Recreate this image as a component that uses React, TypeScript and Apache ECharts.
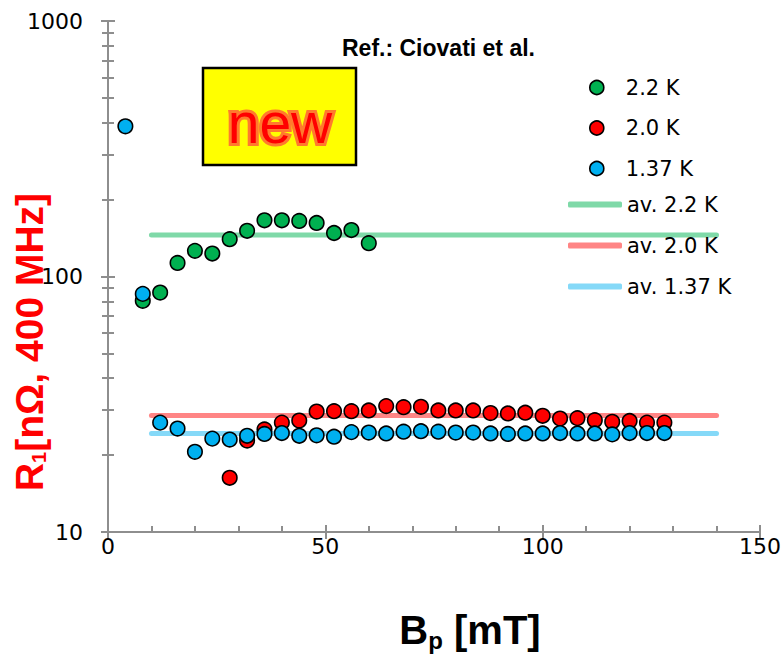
import React, { useEffect, useRef } from "react";
import * as echarts from "echarts";

// Surface resistance R1 at 400 MHz versus peak magnetic field Bp, three bath temperatures.
const fields22K = [8, 12, 16, 20, 24, 28, 32, 36, 40, 44, 48, 52, 56, 60];
const res22K = [80.3, 86.5, 113, 126, 123, 140, 151, 166, 166, 165, 162, 148, 152, 135];

const fields20K = [
  28, 32, 36, 40, 44, 48, 52, 56, 60, 64, 68, 72, 76, 80, 84, 88, 92, 96, 100, 104, 108, 112,
  116, 120, 124, 128,
];
const res20K = [
  16.3, 22.8, 25.2, 26.8, 27.3, 29.6, 29.7, 29.7, 29.9, 31.1, 30.8, 30.9, 29.9, 29.9, 29.9, 29.2,
  29.1, 29.3, 28.5, 27.8, 27.9, 27.4, 27.0, 27.2, 26.8, 26.8,
];

const fields137K = [
  4, 8, 12, 16, 20, 24, 28, 32, 36, 40, 44, 48, 52, 56, 60, 64, 68, 72, 76, 80, 84, 88, 92, 96,
  100, 104, 108, 112, 116, 120, 124, 128,
];
const res137K = [
  387, 85.5, 26.8, 25.4, 20.6, 23.2, 23.0, 23.8, 24.2, 24.4, 23.8, 23.9, 23.6, 24.6, 24.5, 24.3,
  24.7, 24.8, 24.7, 24.5, 24.5, 24.3, 24.2, 24.3, 24.3, 24.4, 24.3, 24.3, 24.1, 24.4, 24.4, 24.4,
];

// Averages, drawn as horizontal lines across the field range
const avgRange = [10, 140];
const avg22K = 145.5;
const avg20K = 28.6;
const avg137K = 24.3;

const pointNames = ["2.2 K", "2.0 K", "1.37 K"];
const avgNames = ["av. 2.2 K", "av. 2.0 K", "av. 1.37 K"];

const yMajorTicks = [10, 100, 1000];
const yMinorTicks = [20, 30, 40, 50, 60, 70, 80, 90, 200, 300, 400, 500, 600, 700, 800, 900];

const GREEN = "#00B050";
const RED = "#FF0000";
const BLUE = "#00B0F0";
const GREEN_AV = "#7FD9A8";
const RED_AV = "#FF8585";
const BLUE_AV = "#85D9F8";
const AXIS_GREY = "#8e8e8e";
const FONT = "DejaVu Sans";
const TITLE_FONT = "Liberation Sans";

const pairs = (xs: number[], ys: number[]) => xs.map((x, i) => [x, ys[i]]);

function scatter(name: string, xs: number[], ys: number[], color: string) {
  return {
    name,
    type: "scatter",
    data: pairs(xs, ys),
    symbol: "circle",
    symbolSize: 14.5,
    z: 3,
    itemStyle: { color, opacity: 1, borderColor: "#000", borderWidth: 1.6 },
  };
}

function avgLine(name: string, value: number, color: string) {
  return {
    name,
    type: "line",
    data: avgRange.map((x) => [x, value]),
    symbol: "none",
    z: 1,
    color,
    itemStyle: { color },
    lineStyle: { color, width: 5, cap: "round" },
  };
}

const hiddenLogAxis = (inside: boolean, length: number, values: number[]) => ({
  type: "log",
  logBase: 10,
  min: 10,
  max: 1000,
  position: "left",
  axisLine: { show: false },
  axisLabel: { show: false },
  splitLine: { show: false },
  axisTick: {
    show: true,
    inside,
    length,
    customValues: values,
    lineStyle: { color: AXIS_GREY, width: 2 },
  },
});

export default function App() {
  const ref = useRef<HTMLDivElement>(null);

  useEffect(() => {
    if (!ref.current) return;
    const chart = echarts.init(ref.current, undefined, { renderer: "svg" });

    chart.setOption({
      animation: false,
      backgroundColor: "#ffffff",
      grid: { left: 108, right: 23, top: 21, bottom: 131 },
      xAxis: [
        {
          type: "value",
          min: 0,
          max: 150,
          interval: 50,
          position: "bottom",
          axisLine: { lineStyle: { color: AXIS_GREY, width: 2 } },
          axisTick: { inside: true, length: 7, lineStyle: { color: AXIS_GREY, width: 2 } },
          minorTick: { show: true, splitNumber: 5, length: 6, lineStyle: { color: AXIS_GREY, width: 2 } },
          splitLine: { show: false },
          axisLabel: { fontSize: 22, fontFamily: FONT, color: "#000", margin: 3 },
        },
        {
          type: "value",
          min: 0,
          max: 150,
          interval: 50,
          position: "bottom",
          axisLine: { show: false },
          axisTick: { inside: false, length: 7, lineStyle: { color: AXIS_GREY, width: 2 } },
          axisLabel: { show: false },
          splitLine: { show: false },
        },
      ],
      yAxis: [
        {
          type: "log",
          logBase: 10,
          min: 10,
          max: 1000,
          position: "left",
          axisLine: { show: true, lineStyle: { color: AXIS_GREY, width: 2 } },
          axisTick: { inside: false, length: 7, lineStyle: { color: AXIS_GREY, width: 2 } },
          splitLine: { show: false },
          axisLabel: {
            fontSize: 22,
            fontFamily: FONT,
            color: "#000",
            margin: 25,
            formatter: (v: number) => String(Math.round(v)),
          },
        },
        hiddenLogAxis(true, 7, yMajorTicks),
        hiddenLogAxis(true, 6, yMinorTicks),
        hiddenLogAxis(false, 6, yMinorTicks),
      ],
      legend: [
        {
          data: pointNames,
          orient: "vertical",
          left: 589,
          top: 77,
          padding: 0,
          itemWidth: 14,
          itemHeight: 14,
          itemGap: 19.5,
          icon: "circle",
          itemStyle: { borderColor: "#000", borderWidth: 1.6 },
          textStyle: {
            fontSize: 21,
            fontFamily: FONT,
            color: "#000",
            lineHeight: 20,
            padding: [0, 0, 0, 17],
          },
        },
        {
          data: avgNames,
          orient: "vertical",
          left: 568,
          top: 194,
          padding: 0,
          itemWidth: 54,
          itemHeight: 6,
          itemGap: 20,
          icon: "roundRect",
          textStyle: { fontSize: 21, fontFamily: FONT, color: "#000", lineHeight: 20 },
        },
      ],
      series: [
        avgLine(avgNames[0], avg22K, GREEN_AV),
        avgLine(avgNames[1], avg20K, RED_AV),
        avgLine(avgNames[2], avg137K, BLUE_AV),
        scatter(pointNames[0], fields22K, res22K, GREEN),
        scatter(pointNames[1], fields20K, res20K, RED),
        scatter(pointNames[2], fields137K, res137K, BLUE),
      ],
      graphic: [
        {
          type: "rect",
          shape: { x: 203, y: 68, width: 153, height: 97 },
          style: { fill: "#FFFF00", stroke: "#000", lineWidth: 2.5 },
          z: 10,
        },
        {
          type: "text",
          x: 280,
          y: 123,
          z: 11,
          style: {
            text: "new",
            align: "center",
            verticalAlign: "middle",
            fontFamily: TITLE_FONT,
            fontSize: 57,
            fill: "#FF0000",
            stroke: "#FF7A2E",
            lineWidth: 6,
            strokeFirst: true,
            shadowColor: "rgba(80,80,0,0.6)",
            shadowBlur: 5,
            shadowOffsetX: 1,
            shadowOffsetY: 2,
          },
        },
        {
          type: "text",
          x: 342,
          y: 48,
          z: 11,
          style: {
            text: "Ref.: Ciovati et al.",
            align: "left",
            verticalAlign: "middle",
            fontFamily: TITLE_FONT,
            fontWeight: "bold",
            fontSize: 23,
            fill: "#000",
          },
        },
        {
          type: "text",
          x: 470,
          y: 630,
          z: 11,
          style: {
            text: "{m|B}{s|p}{m| [mT]}",
            align: "center",
            verticalAlign: "middle",
            rich: {
              m: { fontFamily: TITLE_FONT, fontWeight: "bold", fontSize: 40, lineHeight: 44, fill: "#000", color: "#000" },
              s: { fontFamily: TITLE_FONT, fontWeight: "bold", fontSize: 24, lineHeight: 14, verticalAlign: "bottom", fill: "#000", color: "#000" },
            },
          },
        },
        {
          type: "text",
          x: 29,
          y: 342,
          rotation: Math.PI / 2,
          z: 11,
          style: {
            text: "{m|R}{s|1}{m|[nΩ, 400 MHz]}",
            align: "center",
            verticalAlign: "middle",
            rich: {
              m: { fontFamily: TITLE_FONT, fontWeight: "bold", fontSize: 39, lineHeight: 40, fill: RED, color: RED },
              s: { fontFamily: TITLE_FONT, fontWeight: "bold", fontSize: 20, lineHeight: 4, verticalAlign: "bottom", fill: RED, color: RED },
            },
          },
        },
      ],
    });

    return () => chart.dispose();
  }, []);

  return (
    <div
      ref={ref}
      style={{ position: "fixed", left: 0, top: 0, width: 784, height: 663, background: "#fff" }}
    />
  );
}
